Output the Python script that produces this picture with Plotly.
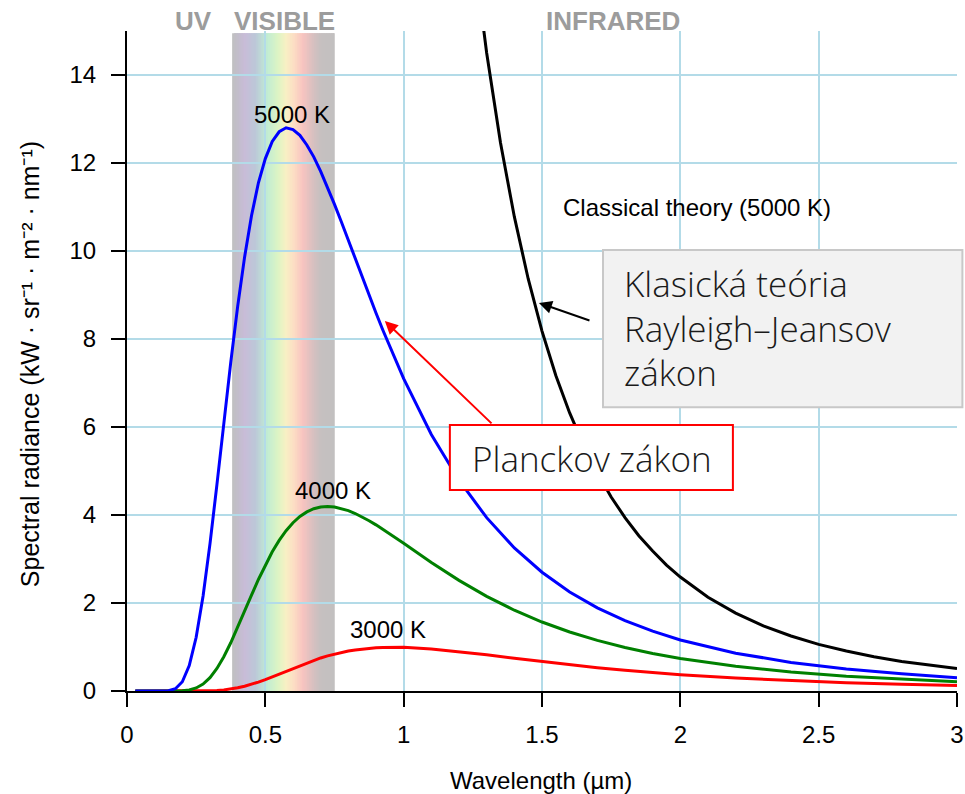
import plotly.graph_objects as go

# ---------------- data ----------------
wavelength_um = [0.03, 0.05, 0.1,
                 0.15, 0.175, 0.2, 0.225, 0.25, 0.275, 0.3, 0.325, 0.35, 0.375, 0.4, 0.425, 0.45, 0.475,
                 0.5, 0.525, 0.55, 0.575, 0.6, 0.625, 0.65, 0.675, 0.7, 0.725, 0.75, 0.775, 0.8, 0.825,
                 0.85, 0.875, 0.9, 0.925, 0.95, 0.975, 1.0,
                 1.1, 1.2, 1.3, 1.4, 1.5, 1.6, 1.7, 1.8, 1.9, 2.0,
                 2.2, 2.4, 2.6, 2.8, 3.0]
radiance_5000K = [0, 0, 0,
                  0.007, 0.052, 0.21, 0.577, 1.22, 2.16, 3.35, 4.69, 6.09, 7.47, 8.74, 9.86, 10.80, 11.55,
                  12.10, 12.49, 12.71, 12.80, 12.76, 12.63, 12.41, 12.14, 11.81, 11.45, 11.06, 10.66, 10.24, 9.82,
                  9.39, 9.00, 8.59, 8.20, 7.82, 7.45, 7.10,
                  5.83, 4.79, 3.94, 3.25, 2.70, 2.25, 1.89, 1.60, 1.36, 1.16,
                  0.86, 0.65, 0.50, 0.39, 0.30]
radiance_4000K = [0, 0, 0,
                  0, 0.001, 0.006, 0.024, 0.069, 0.158, 0.304, 0.513, 0.780, 1.096, 1.445, 1.813, 2.180, 2.535,
                  2.865, 3.163, 3.423, 3.644, 3.825, 3.967, 4.070, 4.142, 4.180, 4.194, 4.183, 4.149, 4.099, 4.034,
                  3.956, 3.870, 3.776, 3.676, 3.572, 3.466, 3.356,
                  2.922, 2.514, 2.152, 1.836, 1.568, 1.341, 1.150, 0.988, 0.853, 0.739,
                  0.560, 0.430, 0.335, 0.265, 0.212]
radiance_3000K = [0, 0, 0,
                  0, 0, 0, 0.0001, 0.0006, 0.002, 0.0056, 0.0128, 0.025, 0.045, 0.072, 0.108, 0.152, 0.203,
                  0.260, 0.322, 0.386, 0.452, 0.517, 0.581, 0.642, 0.698, 0.751, 0.798, 0.840, 0.876, 0.908, 0.934,
                  0.955, 0.971, 0.983, 0.991, 0.994, 0.995, 0.993,
                  0.957, 0.896, 0.823, 0.744, 0.669, 0.597, 0.531, 0.472, 0.419, 0.372,
                  0.295, 0.235, 0.188, 0.152, 0.124]

rj_wavelength_um = [1.25, 1.3, 1.35, 1.4, 1.45, 1.5, 1.55, 1.6, 1.65, 1.7, 1.75, 1.8, 1.85, 1.9, 1.95, 2.0,
                    2.1, 2.2, 2.3, 2.4, 2.5, 2.6, 2.7, 2.8, 2.9, 3.0]
rj_radiance_5000K = [16.96, 14.50, 12.46, 10.78, 9.37, 8.18, 7.17, 6.32, 5.59, 4.96, 4.41, 3.94, 3.53, 3.18, 2.86, 2.59,
                     2.13, 1.77, 1.48, 1.25, 1.06, 0.91, 0.78, 0.67, 0.59, 0.51]

x_ticks = [0, 0.5, 1, 1.5, 2, 2.5, 3]
x_tick_labels = ["0", "0.5", "1", "1.5", "2", "2.5", "3"]
y_ticks = [0, 2, 4, 6, 8, 10, 12, 14]
y_tick_labels = ["0", "2", "4", "6", "8", "10", "12", "14"]

visible_band_um = [0.38, 0.75]

curve_labels = ["5000 K", "4000 K", "3000 K", "Classical theory (5000 K)"]
curve_label_x = [0.596, 0.745, 0.943, 2.06]
curve_label_y = [13.11, 4.56, 1.40, 10.98]

region_labels = ["UV", "VISIBLE", "INFRARED"]
region_label_xpaper = [0.0807, 0.190, 0.586]

# ---------------- figure ----------------
FONT = "Liberation Sans, Arial, sans-serif"
BOX_FONT = "Open Sans, Noto Sans, sans-serif"

fig = go.Figure()

fig.add_trace(go.Scatter(x=wavelength_um, y=radiance_3000K, mode="lines",
                         line=dict(color="#ff0000", width=3), hoverinfo="skip"))
fig.add_trace(go.Scatter(x=wavelength_um, y=radiance_4000K, mode="lines",
                         line=dict(color="#008000", width=3), hoverinfo="skip"))
fig.add_trace(go.Scatter(x=wavelength_um, y=radiance_5000K, mode="lines",
                         line=dict(color="#0000ff", width=3), hoverinfo="skip"))
fig.add_trace(go.Scatter(x=rj_wavelength_um, y=rj_radiance_5000K, mode="lines",
                         line=dict(color="#000000", width=3), hoverinfo="skip"))

# visible spectrum band (pastel gradient), drawn below the grid
stops = [
    (0.380, (192, 192, 192)),
    (0.400, (194, 190, 202)),
    (0.425, (200, 188, 216)),
    (0.465, (188, 200, 216)),
    (0.505, (192, 236, 212)),
    (0.545, (220, 244, 196)),
    (0.575, (248, 240, 196)),
    (0.605, (252, 220, 196)),
    (0.635, (248, 196, 192)),
    (0.675, (214, 192, 192)),
    (0.700, (198, 192, 192)),
    (0.750, (194, 192, 192)),
]


def band_color(w):
    for (w0, c0), (w1, c1) in zip(stops[:-1], stops[1:]):
        if w0 <= w <= w1:
            t = (w - w0) / (w1 - w0)
            c = [round(a + (b - a) * t) for a, b in zip(c0, c1)]
            return "rgb(%d,%d,%d)" % tuple(c)
    return "rgb(194,192,192)"


n_slices = 60
b0, b1 = visible_band_um
step = (b1 - b0) / n_slices
for i in range(n_slices):
    xa = b0 + i * step
    xb = min(xa + 2.5 * step, b1)
    fig.add_shape(type="rect", xref="x", yref="y", x0=xa, x1=xb, y0=0, y1=14.95,
                  fillcolor=band_color(xa + step / 2), line=dict(width=0), layer="below")

# annotation boxes (above traces)
fig.add_shape(type="rect", xref="paper", yref="paper", x0=0.5735, x1=1.0065, y0=0.430, y1=0.668,
              fillcolor="#f2f2f2", line=dict(color="#c8c8c8", width=2), layer="above")
fig.add_shape(type="rect", xref="paper", yref="paper", x0=0.389, x1=0.730, y0=0.3045, y1=0.403,
              fillcolor="#ffffff", line=dict(color="#ff0000", width=2), layer="above")

annotations = []
for t, x, y in zip(curve_labels, curve_label_x, curve_label_y):
    annotations.append(dict(text=t, x=x, y=y, xref="x", yref="y", showarrow=False,
                            xanchor="center", yanchor="middle",
                            font=dict(family=FONT, size=24, color="#000000")))
for t, x in zip(region_labels, region_label_xpaper):
    annotations.append(dict(text="<b>%s</b>" % t, x=x, y=1.0152, xref="paper", yref="paper",
                            xanchor="center", yanchor="middle", showarrow=False,
                            font=dict(family=FONT, size=26, color="#9c9c9c")))

# box texts
for t, yp in [("Klasická teória", 0.617), ("Rayleigh–Jeansov", 0.549), ("zákon", 0.483)]:
    annotations.append(dict(text=t, x=0.5964, y=yp, xref="paper", yref="paper", xanchor="left",
                            yanchor="middle", showarrow=False,
                            font=dict(family=BOX_FONT, size=35, color="#1a1a1a", weight=300)))
annotations.append(dict(text="Planckov zákon", x=0.413, y=0.353, xref="paper", yref="paper",
                        xanchor="left", yanchor="middle", showarrow=False,
                        font=dict(family=BOX_FONT, size=35, color="#1a1a1a", weight=300)))

# arrows
annotations.append(dict(text="", x=0.932, y=8.41, xref="x", yref="y", ax=1.323, ay=6.05,
                        axref="x", ayref="y", showarrow=True, arrowhead=2, arrowsize=1.3,
                        arrowwidth=2, arrowcolor="#ff0000", standoff=0))
annotations.append(dict(text="", x=1.489, y=8.82, xref="x", yref="y", ax=1.677, ay=8.41,
                        axref="x", ayref="y", showarrow=True, arrowhead=2, arrowsize=1.3,
                        arrowwidth=2, arrowcolor="#000000", standoff=0))

# axis titles
annotations.append(dict(text="Wavelength (µm)", x=0.499, y=-0.136, xref="paper", yref="paper",
                        showarrow=False, xanchor="center", yanchor="middle",
                        font=dict(family=FONT, size=24, color="#000000")))
annotations.append(dict(text="Spectral radiance (kW · sr⁻¹ · m⁻² · nm⁻¹)", x=-0.117, y=0.495,
                        xref="paper", yref="paper", showarrow=False, textangle=-90,
                        xanchor="center", yanchor="middle",
                        font=dict(family=FONT, size=25, color="#000000")))

fig.update_layout(
    width=965, height=794,
    margin=dict(l=127, r=8, t=31, b=103),
    paper_bgcolor="#ffffff", plot_bgcolor="#ffffff",
    showlegend=False,
    annotations=annotations,
    font=dict(family=FONT, size=24, color="#000000"),
)
fig.update_xaxes(range=[0, 3], tickvals=x_ticks, ticktext=x_tick_labels, automargin=False,
                 showgrid=True, gridcolor="#b3dbe8", gridwidth=2,
                 showline=True, linecolor="#000000", linewidth=2,
                 ticks="outside", ticklen=14, tickwidth=2, tickcolor="#000000",
                 ticklabelstandoff=7, zeroline=False,
                 tickfont=dict(family=FONT, size=24, color="#000000"))
fig.update_yaxes(range=[0, 15], tickvals=y_ticks, ticktext=y_tick_labels, automargin=False,
                 showgrid=True, gridcolor="#b3dbe8", gridwidth=2,
                 showline=True, linecolor="#000000", linewidth=2,
                 ticks="outside", ticklen=14, tickwidth=2, tickcolor="#000000",
                 ticklabelstandoff=10, zeroline=False,
                 tickfont=dict(family=FONT, size=24, color="#000000"))

fig.write_html("out.html")
